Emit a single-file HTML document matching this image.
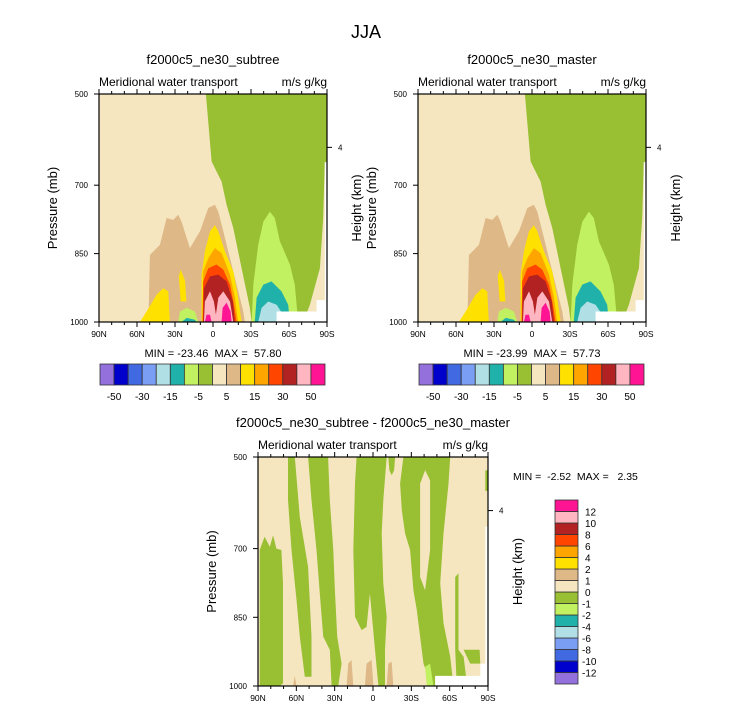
<!DOCTYPE html>
<html><head><meta charset="utf-8"><style>
html,body{margin:0;padding:0;background:#fff}
svg{display:block;font-family:"Liberation Sans",sans-serif}
text{white-space:pre}
</style></head><body>
<svg id="fig" width="733" height="711" viewBox="0 0 733 711">
<text x="366" y="38" font-size="18" text-anchor="middle">JJA</text>
</svg>
<script>
// ---------- data ----------
const xTickLabels = ["90N","60N","30N","0","30S","60S","90S"];
const xTickLats = [90,60,30,0,-30,-60,-90];
const yTickLabels = ["500","700","850","1000"];
const yTickVals = [500,700,850,1000];
const hTickLabels = ["4"];
const hTickPress = [617];
const cbColors = ["#9370db","#0000cd","#4169e1","#7b9ef5","#b0e0e6","#20b2aa","#c1f060","#99bf33","#f5e6c0","#dfb887","#ffe100","#ffa500","#ff4500","#b22222","#ffb6c1","#ff1493"];
const cbLabelsTop = ["-50","","-30","","-15","","-5","","5","","15","","30","","50"];
const cbLabelsDiff = ["-12","-10","-8","-6","-4","-2","-1","0","1","2","4","6","8","10","12"];
const statsA = ["-23.46","57.80"];
const statsB = ["-23.99","57.73"];
const statsD = ["-2.52","2.35"];
// contour fill regions [lat, pressure]
const topShapes = [
 ["#99bf33",[[5.6,500],[-90,500],[-90,648],[-88.3,650],[-87,772],[-84.4,882],[-76.5,962],[-71.2,1000],[-30.5,1000],[-29.1,969],[-22.6,882],[-16,794],[-10.7,743],[-6.8,692],[1.1,648]]],
 ["#c1f060",[[-30.5,1000],[-31.8,918],[-35.7,831],[-39.7,780],[-44.9,758],[-48.8,772],[-52.8,823],[-60.7,874],[-64.6,918],[-67.3,1000]]],
 ["#20b2aa",[[-33,1000],[-34.4,947],[-39.7,918],[-46.2,911],[-54.1,933],[-59.4,962],[-60.7,1000]]],
 ["#b0e0e6",[[-35.7,1000],[-38.4,969],[-43.6,955],[-50.2,962],[-55.4,984],[-56.7,1000]]],
 ["#dfb887",[[51,1000],[49.8,853],[41.9,831],[36.6,772],[31.4,776],[27.4,765],[24.8,780],[18.2,838],[10.3,801],[3.7,750],[-1.5,743],[-4.2,758],[-8.1,801],[-13.4,860],[-18.6,918],[-23.9,977],[-25.2,1000]]],
 ["#ffe100",[[9,1000],[9,896],[6.4,845],[2.4,801],[-1.5,788],[-4.2,801],[-9.4,845],[-16,889],[-19.9,947],[-22.6,1000]]],
 ["#ffe100",[[57.7,1000],[52.4,977],[44.5,940],[39.2,926],[35.3,933],[34.5,977],[34,1000]]],
 ["#ffe100",[[27,900],[25.5,885],[22,910],[21,955],[25.5,955]]],
 ["#ffa500",[[8.2,1000],[7.7,889],[3.7,860],[-1.5,838],[-6.8,849],[-13.4,896],[-17.3,947],[-19.9,1000]]],
 ["#ff4500",[[8.2,1000],[7.7,911],[3.7,882],[-2.8,874],[-8.1,885],[-13.4,918],[-16.5,962],[-18.6,1000]]],
 ["#b22222",[[7.7,1000],[7.2,926],[2.4,900],[-4.2,896],[-10.7,911],[-15.7,955],[-17.3,1000]]],
 ["#ffb6c1",[[7.2,1000],[6.4,955],[2.4,933],[-0.7,955],[-2.3,984],[-4.2,947],[-8.1,933],[-13.4,955],[-16,1000]]],
 ["#ff1493",[[-6.8,1000],[-7.6,969],[-10.7,958],[-13.9,977],[-14.7,1000]]],
 ["#ff1493",[[6.4,1000],[5.1,984],[2.4,984],[1.1,1000]]],
 ["#c1f060",[[27.4,1000],[26.1,977],[20.8,969],[14.3,977],[11.6,1000]]],
 ["#20b2aa",[[24.8,1000],[20.8,991],[14.3,995],[13,1000]]],
 ["#ffffff",[[-50.2,977],[-81.8,977],[-81.8,952],[-90,952],[-90,1000],[-50.2,1000]]],
 ["#ffffff",[[-88.3,650],[-90,650],[-90,1000],[-88.3,1000]]]
];
const diffShapes = [
 ["#99bf33",[[88.7,1000],[88.7,703],[84.8,674],[80.8,696],[78.2,671],[75.6,700],[71.7,703],[70.4,776],[70.4,994],[73,1000]]],
 ["#99bf33",[[66.5,500],[61.2,500],[59.9,544],[57.3,631],[50.8,740],[48.1,892],[48.1,980],[53.4,980],[57.3,892],[59.9,812],[63.8,703],[66.5,594]]],
 ["#99bf33",[[50.8,500],[35.1,500],[33.8,594],[31.1,703],[29.8,791],[28,892],[24.6,951],[27.2,1000],[32.4,1000],[33.8,921],[39,892],[41.6,798],[44.2,703],[48.1,594]]],
 ["#99bf33",[[12.8,500],[-10.7,500],[-8.1,594],[-6.8,667],[-8.1,776],[-10.7,849],[-9.4,921],[-9.4,1000],[-4.2,1000],[-1.6,921],[2.4,798],[5,871],[8.9,878],[14.1,849],[15.4,703],[14.1,558]]],
 ["#99bf33",[[-12,500],[-17.3,500],[-16.5,529],[-14.6,540],[-12.8,529]]],
 ["#99bf33",[[-23.8,500],[-60.4,500],[-59.1,558],[-55.2,667],[-52.6,776],[-55.2,863],[-60.4,936],[-63,1000],[-46,1000],[-39.5,951],[-36.9,892],[-34.3,834],[-31.6,791],[-29,703],[-25.1,667],[-22.5,616],[-21.2,558]]],
 ["#f5e6c0",[[-36.9,558],[-40.8,529],[-44.7,551],[-44.7,703],[-40.8,791],[-36.9,762]]],
 ["#99bf33",[[-64.3,762],[-66.9,754],[-66.9,921],[-70.9,936],[-73.5,994],[-65.6,1000],[-64.3,921]]],
 ["#99bf33",[[-70.9,921],[-83.4,921],[-84,951],[-76.1,951]]],
 ["#99bf33",[[-87.9,529],[-90,529],[-90,574],[-87.9,574]]],
 ["#c1f060",[[-40.8,958],[-44.7,951],[-47.3,1000],[-42.1,1000]]],
 ["#dfb887",[[20.7,1000],[19.4,951],[16.8,943],[15.4,1000]]],
 ["#dfb887",[[6.3,1000],[5,951],[1.1,943],[-0.3,1000]]],
 ["#dfb887",[[-10.7,1000],[-12,951],[-14.6,947],[-15.9,1000]]],
 ["#dfb887",[[62.5,1000],[61.2,978],[59.9,1000]]],
 ["#ffffff",[[-48.6,978],[-84,978],[-84,951],[-90,951],[-90,1000],[-48.6,1000]]],
 ["#ffffff",[[-87.9,652],[-90,652],[-90,1000],[-87.9,1000]]]
];
// ---------- drawing ----------
const NS="http://www.w3.org/2000/svg";
const svg=document.getElementById("fig");
function mk(tag,attrs,parent){const e=document.createElementNS(NS,tag);for(const k in attrs)e.setAttribute(k,attrs[k]);(parent||svg).appendChild(e);return e;}
function txt(s,x,y,size,anchor,parent,rot){const t=mk("text",{x:x,y:y,"font-size":size,"text-anchor":anchor||"start"},parent);if(rot)t.setAttribute("transform","rotate(-90 "+x+" "+y+")");t.textContent=s;return t;}

function panel(L,T,W,H,shapes,title,name,showStats,stats){
  const g=mk("g",{});
  
  
  const xS=lat=>L+(90-lat)/180*W;
  const yS=p=>T+(p-500)/500*H;
  const bg=mk("rect",{x:L,y:T,width:W,height:H,fill:"#f5e6c0"},g);
  
  
  shapes.forEach(s=>{
    const pl=mk("polygon",{fill:s[0],points:s[1].map(v=>xS(v[0]).toFixed(1)+","+yS(v[1]).toFixed(1)).join(" ")},g);
    
    
  });
  const fr=mk("rect",{x:L,y:T,width:W,height:H,fill:"none",stroke:"#000","stroke-width":1.2},g);
  
  
  for(let lat=90;lat>=-90;lat-=10){
    const x=xS(lat),major=lat%30===0,len=major?5:3;
    mk("line",{x1:x,x2:x,y1:T+H,y2:T+H+len,stroke:"#000","stroke-width":1},g);
    mk("line",{x1:x,x2:x,y1:T,y2:T-len,stroke:"#000","stroke-width":1},g);
  }
  xTickLats.forEach((lat,i)=>{const t=txt(xTickLabels[i],xS(lat),T+H+15,8.5,"middle",g);
    
    });
  yTickVals.forEach((p,i)=>{
    mk("line",{x1:L-5,x2:L,y1:yS(p),y2:yS(p),stroke:"#000"},g);
    const t=txt(yTickLabels[i],L-11,yS(p)+3,8,"end",g);
    
    
  });
  hTickPress.forEach((p,i)=>{
    mk("line",{x1:L+W,x2:L+W+5,y1:yS(p),y2:yS(p),stroke:"#000"},g);
    const t=txt(hTickLabels[i],L+W+11,yS(p)+3,8,"start",g);
    
    
  });
  let t=txt(title,L+W/2,T-30,13,"middle",g);
  
  
  t=txt("Meridional water transport",L,T-8,12,"start",g);
  
  
  t=txt("m/s g/kg",L+W,T-8,12,"end",g);
  
  
  t=txt("Pressure (mb)",L-42,T+H/2,13,"middle",g,true);
  
  
  t=txt("Height (km)",L+W+34,T+H/2,13,"middle",g,true);
  
  
  if(showStats){
    t=txt("MIN = "+stats[0]+"  MAX =  "+stats[1],L+W/2,T+H+35,11,"middle",g);
    
    
    const cbX=L+1,cbW=W-3,cbY=T+H+42,cbH=21,bw=cbW/cbColors.length;
    cbColors.forEach((c,i)=>{const r=mk("rect",{x:cbX+i*bw,y:cbY,width:bw,height:cbH,fill:c,stroke:"#333","stroke-width":0.8},g);
      
      });
    cbLabelsTop.forEach((s,i)=>{if(!s)return;const tl=txt(s,cbX+(i+1)*bw,cbY+cbH+15,10,"middle",g);
      
      });
  }
}
panel(99,94,228,228,topShapes,"f2000c5_ne30_subtree","panel-subtree",true,statsA);
panel(418,94,228,228,topShapes,"f2000c5_ne30_master","panel-master",true,statsB);
panel(258,457,230,229,diffShapes,"f2000c5_ne30_subtree - f2000c5_ne30_master","panel-difference",false,null);
// difference stats and vertical colorbar
let st=txt("MIN =  "+statsD[0]+"  MAX =   "+statsD[1],513,480,10.5,"start");


const vX=555,vY=500,vW=23,vH=184,vb=vH/cbColors.length;
cbColors.forEach((c,i)=>{
  const r=mk("rect",{x:vX,y:vY+vH-(i+1)*vb,width:vW,height:vb,fill:c,stroke:"#333","stroke-width":0.8});
  
  
});
cbLabelsDiff.forEach((s,i)=>{
  const t=txt(s,s.startsWith("-")?582:585,vY+vH-(i+1)*vb+4,10,"start");
  
  
});
</script>
</body></html>
